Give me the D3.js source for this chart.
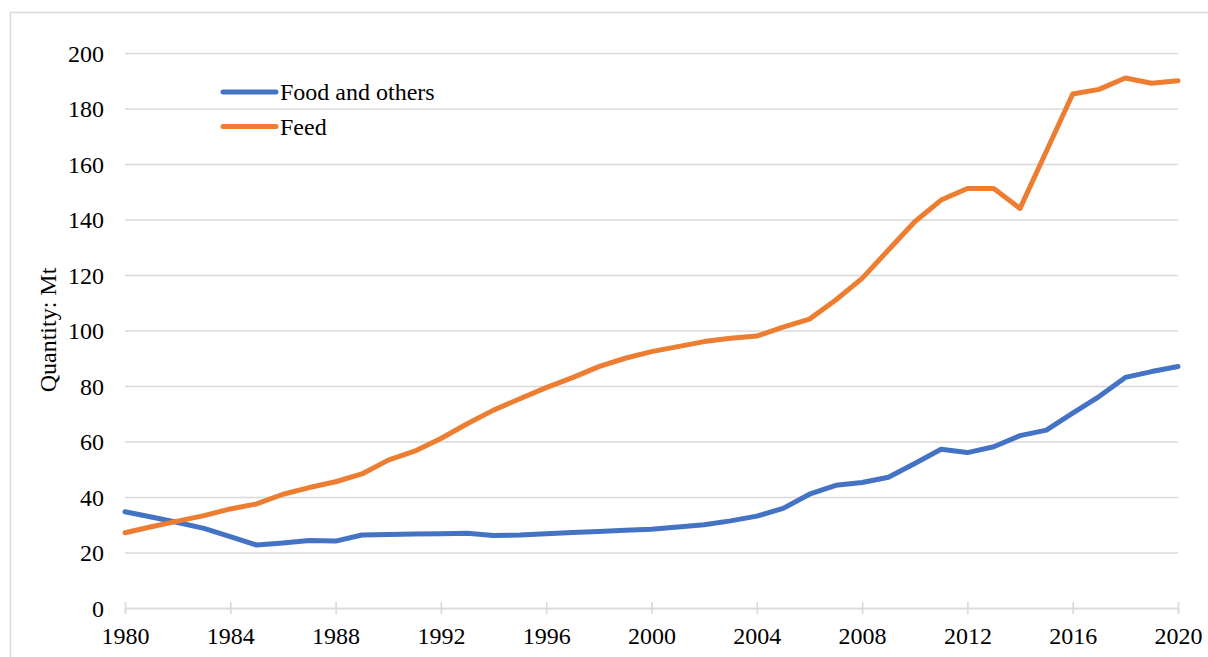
<!DOCTYPE html>
<html>
<head>
<meta charset="utf-8">
<script src="https://cdn.jsdelivr.net/npm/d3@7"></script>
<style>
  body { margin: 0; background: #fff; }
  text { font-family: "Liberation Serif", "Times New Roman", serif; fill: #000; }
</style>
</head>
<body>
<div id="chart"></div>
<script>
var years = d3.range(1980, 2021);

var food = [34.7, 32.8, 30.8, 28.7, 25.7, 22.7, 23.4, 24.3, 24.1, 26.3,
            26.5, 26.7, 26.8, 26.9, 26.1, 26.3, 26.8, 27.2, 27.6, 28.0,
            28.4, 29.2, 30.0, 31.4, 33.1, 35.9, 41.0, 44.2, 45.2, 47.1,
            52.1, 57.2, 56.0, 58.1, 62.1, 64.1, 70.2, 76.2, 83.1, 85.2,
            87.0];

var feed = [27.1, 29.3, 31.3, 33.3, 35.7, 37.5, 41.0, 43.4, 45.5, 48.3,
            53.3, 56.5, 61.1, 66.4, 71.3, 75.4, 79.4, 83.0, 87.0, 90.0,
            92.4, 94.2, 96.0, 97.2, 98.0, 101.2, 104.1, 111.0, 118.8, 129.0,
            139.2, 147.0, 151.2, 151.2, 144.0, 164.6, 185.2, 186.9, 191.0, 189.1,
            190.0];

var seriesNames = ["Food and others", "Feed"];
var colors = ["#4472C4", "#ED7D31"];
var yTicks = d3.range(0, 201, 20);
var xTicks = d3.range(1980, 2021, 4);

var margin = {top: 53, right: 30, bottom: 49, left: 125},
    width = 1208 - margin.left - margin.right,
    height = 657 - margin.top - margin.bottom;

var svg = d3.select("#chart")
  .append("svg")
    .attr("width", 1208)
    .attr("height", 657);

// outer chart border
svg.append("rect")
  .attr("x", 10.5).attr("y", 12.5)
  .attr("width", 1210).attr("height", 660)
  .attr("fill", "none")
  .attr("stroke", "#d9d9d9")
  .attr("stroke-width", 1.5);

var g = svg.append("g")
  .attr("transform", "translate(" + margin.left + "," + margin.top + ")");

var x = d3.scaleLinear().domain([1980, 2020]).range([0, width]);
var y = d3.scaleLinear().domain([0, 200]).range([height, 0]);

// gridlines + y labels
var yAxis = g.append("g")
  .call(d3.axisLeft(y).tickValues(yTicks).tickSize(-width).tickPadding(21));
yAxis.select(".domain").remove();
yAxis.selectAll(".tick line")
  .attr("stroke", "#d9d9d9")
  .attr("stroke-width", 1.6);
yAxis.selectAll(".tick text")
  .style("font-size", "24px")
  .attr("dy", "0.34em");

// x axis
var xAxis = g.append("g")
  .attr("transform", "translate(0," + height + ")")
  .call(d3.axisBottom(x).tickValues(xTicks).tickFormat(d3.format("d")).tickSize(6).tickPadding(0));
xAxis.select(".domain")
  .attr("stroke", "#d9d9d9")
  .attr("stroke-width", 1.6);
xAxis.selectAll(".tick line")
  .attr("y1", -6).attr("y2", 6)
  .attr("stroke", "#d9d9d9")
  .attr("stroke-width", 1.6);
xAxis.selectAll(".tick text")
  .style("font-size", "24px")
  .attr("y", 36)
  .attr("dy", 0);

// lines
var line = d3.line()
  .x(function(d, i) { return x(years[i]); })
  .y(function(d) { return y(d); });

[food, feed].forEach(function(s, i) {
  g.append("path")
    .datum(s)
    .attr("fill", "none")
    .attr("stroke", colors[i])
    .attr("stroke-width", 5)
    .attr("stroke-linejoin", "round")
    .attr("stroke-linecap", "round")
    .attr("d", line);
});

// legend
var legend = svg.append("g").attr("transform", "translate(223,92)");
seriesNames.forEach(function(name, i) {
  var row = legend.append("g").attr("transform", "translate(0," + (i * 34.5) + ")");
  row.append("line")
    .attr("x1", 0).attr("x2", 53)
    .attr("stroke", colors[i])
    .attr("stroke-width", 5)
    .attr("stroke-linecap", "round");
  row.append("text")
    .attr("x", 57)
    .attr("dy", "0.35em")
    .style("font-size", "24px")
    .text(name);
});

// y axis title
svg.append("text")
  .attr("transform", "translate(56,330) rotate(-90)")
  .attr("text-anchor", "middle")
  .style("font-size", "24px")
  .text("Quantity: Mt");
</script>
</body>
</html>
